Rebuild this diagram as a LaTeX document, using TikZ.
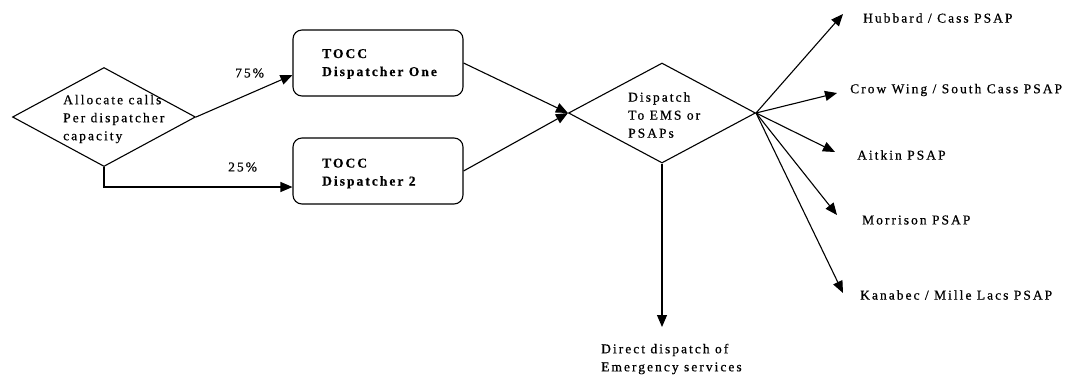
\documentclass[tikz,border=0pt]{standalone}
\usepackage{fontspec}
\setmainfont[LetterSpace=15,FakeBold=0.6]{Liberation Serif}
\usetikzlibrary{shapes.geometric,arrows.meta}

\begin{document}
\begin{tikzpicture}[x=1pt,y=-1pt,
  every node/.style={font=\fontsize{13.5}{18}\selectfont},
  decision/.style={diamond, draw, line width=1.1pt, inner sep=0pt},
  dispbox/.style={draw, rounded corners=9pt, line width=1.1pt,
    minimum width=170pt, minimum height=66pt, inner sep=0pt},
  txt/.style={align=left, inner sep=0pt, anchor=west},
  txtb/.style={txt, font=\fontsize{13.5}{18}\selectfont\bfseries},
  flow/.style={-{Triangle[length=12pt,width=10pt]}, line width=1.1pt}
]
\useasboundingbox (0,0) rectangle (1068,376);

% decision: split of incoming calls
\node[decision, minimum width=183pt, minimum height=99pt] (alloc) at (104,117) {};
\node[txt] (alloctext) at (63,119) {Allocate calls\\Per dispatcher\\capacity};

% the two dispatcher desks
\node[dispbox] (b1) at (378,63) {};
\node[txtb] (b1text) at (322,64) {TOCC\\Dispatcher One};
\node[dispbox] (b2) at (378,171) {};
\node[txtb] (b2text) at (322,173.5) {TOCC\\Dispatcher 2};

% dispatch decision
\node[decision, minimum width=187pt, minimum height=100pt] (disp) at (662,113) {};
\node[txt] (disptext) at (628,115) {Dispatch\\To EMS or\\PSAPs};

% split percentages
\node[txt] (p75) at (235,73) {75\%};
\node[txt] (p25) at (228,167) {25\%};

\draw[flow] (alloc.east) -- ([yshift=-12pt]b1.west);
\draw[flow] (alloc.south) |- ([yshift=-16pt]b2.west);
\draw[flow] (b1.east) -- (disp.west);
\draw[flow] (b2.east) -- (disp.west);

% destinations
\coordinate (tHub) at (843,14);
\coordinate (tCrow) at (837,93);
\coordinate (tAit) at (835,152);
\coordinate (tMor) at (837,215);
\coordinate (tKan) at (843,293);
\coordinate (tDir) at (662,327);

\node[txt] (hub) at (863,18) {Hubbard / Cass PSAP};
\node[txt] (crow) at (850,90) {Crow Wing / South Cass PSAP};
\node[txt] (ait) at (857,155) {Aitkin PSAP};
\node[txt] (mor) at (862,220) {Morrison PSAP};
\node[txt] (kan) at (860,295) {Kanabec / Mille Lacs PSAP};
\node[txt] (direct) at (601,359) {Direct dispatch of\\Emergency services};

\foreach \t in {tHub,tCrow,tAit,tMor,tKan}
  \draw[flow] (disp.east) -- (\t);
\draw[flow] (disp.south) -- (tDir);
\end{tikzpicture}
\end{document}
